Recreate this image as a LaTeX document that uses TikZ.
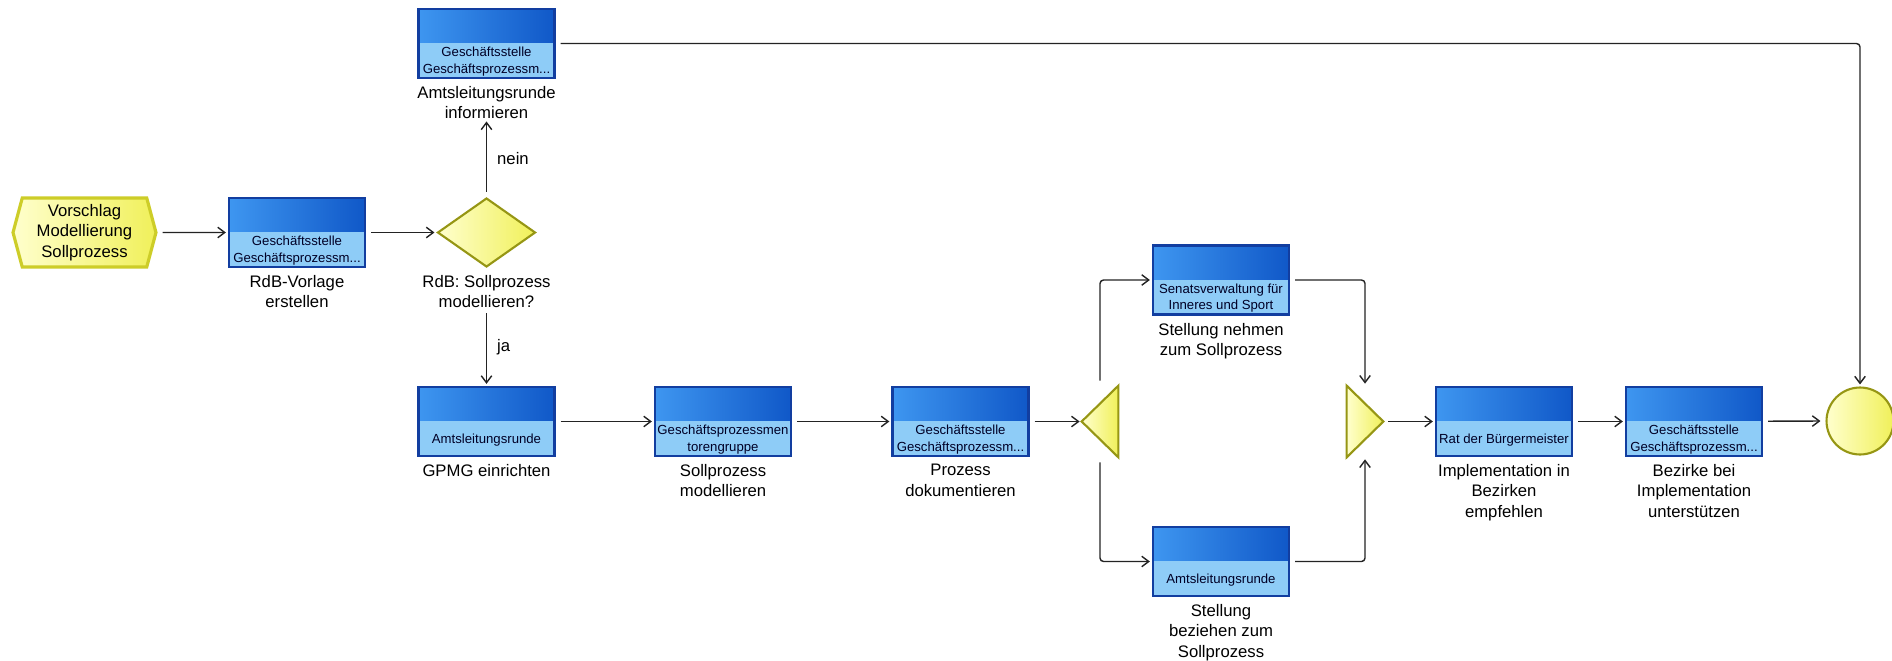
\documentclass[tikz,border=0pt]{standalone}
\usepackage{fontspec}
\setmainfont{Liberation Sans}
\usetikzlibrary{shapes.geometric,shapes.symbols,positioning,arrows.meta}
\definecolor{boxborder}{RGB}{18,62,160}
\definecolor{boxtopA}{RGB}{62,150,240}
\definecolor{boxtopB}{RGB}{16,88,200}
\definecolor{boxlight}{RGB}{142,204,247}
\definecolor{evfillA}{RGB}{255,255,205}
\definecolor{evfillB}{RGB}{240,240,90}
\definecolor{evborder}{RGB}{150,150,20}
\definecolor{hexborder}{RGB}{205,205,40}
\definecolor{linegray}{RGB}{35,35,35}

\begin{document}
\begin{tikzpicture}[x=0.02cm, y=-0.02cm,
    fnbox/.style={draw=boxborder, line width=1.3pt, minimum width=2.72cm,
      minimum height=1.38cm, inner sep=0pt,
      path picture={
        \shade[left color=boxtopA, right color=boxtopB]
          (path picture bounding box.north west) rectangle
          ([yshift=-0.68cm]path picture bounding box.north east);
        \fill[boxlight] ([yshift=-0.68cm]path picture bounding box.north west)
          rectangle (path picture bounding box.south east);
      }},
    orgtext/.style={font=\fontsize{7.5}{9.5}\selectfont, align=center,
      inner sep=0pt, text=black!85!blue},
    lbl/.style={font=\fontsize{9.5}{11.6}\selectfont, align=center, inner sep=0pt},
    yellowev/.style={draw=evborder, line width=1.2pt, left color=evfillA,
      right color=evfillB},
    flow/.style={draw=linegray, line width=0.8pt,
      -{Straight Barb[length=1.4mm, width=2.1mm]},
      shorten <=0.1cm, shorten >=0.04cm, rounded corners=2pt}]
        \useasboundingbox (0,0) rectangle (1892,660);

        % Start event and decision
        \node[yellowev, lbl, draw=hexborder, line width=1.8pt, shape=signal,
          signal to=west and east, signal pointer angle=150,
          minimum width=2.86cm, minimum height=1.38cm] (start) at (84.5,232.5)
          {Vorschlag\\Modellierung\\Sollprozess};
        \node[yellowev, diamond, minimum width=1.96cm, minimum height=1.38cm,
          inner sep=0pt] (dec) at (486.5,232.5) {};
        \node[lbl, below=0.14cm of dec] (dec-lbl) {RdB: Sollprozess\\modellieren?};

        % Functions
        \foreach \n/\x/\y/\org/\txt in {
            b1/297/232.5/{Geschäftsstelle\\Geschäftsprozessm...}/{RdB-Vorlage\\erstellen},
            b2/486.5/43.5/{Geschäftsstelle\\Geschäftsprozessm...}/{Amtsleitungsrunde\\informieren},
            b3/486.5/421.5/{Amtsleitungsrunde}/{GPMG einrichten},
            b4/723/421.5/{Geschäftsprozessmen\\torengruppe}/{Sollprozess\\modellieren},
            b5/960.5/421.5/{Geschäftsstelle\\Geschäftsprozessm...}/{Prozess\\dokumentieren},
            b6/1221/280/{Senatsverwaltung für\\Inneres und Sport}/{Stellung nehmen\\zum Sollprozess},
            b7/1221/561.5/{Amtsleitungsrunde}/{Stellung\\beziehen zum\\Sollprozess},
            b8/1504/421.5/{Rat der Bürgermeister}/{Implementation in\\Bezirken\\empfehlen},
            b9/1694/421.5/{Geschäftsstelle\\Geschäftsprozessm...}/{Bezirke bei\\Implementation\\unterstützen}}{
            \node[fnbox] (\n) at (\x,\y) {};
            \node[orgtext] (\n-org) at ([yshift=0.35cm]\n.south) {\org};
            \node[lbl, below=0.14cm of \n] (\n-lbl) {\txt};
        }

        % Split, join and end event
        \node[minimum width=0.72cm, minimum height=1.42cm, inner sep=0pt] (split) at (1100,421.5) {};
        \draw[yellowev] (split.north east) -- (split.south east) -- (split.west) -- cycle;
        \node[minimum width=0.72cm, minimum height=1.42cm, inner sep=0pt] (join) at (1365,421.5) {};
        \draw[yellowev] (join.north west) -- (join.south west) -- (join.east) -- cycle;
        \node[yellowev, circle, minimum size=1.34cm, inner sep=0pt] (end) at (1860,421) {};

        % Connectors
        \draw[flow] (start) -- (b1);
        \draw[flow] (b1) -- (dec);
        \draw[flow] (dec) -- node[lbl, right=0.2cm] (no) {nein} (b2-lbl);
        \draw[flow] (dec-lbl) -- node[lbl, right=0.2cm] (yes) {ja} (b3);
        \draw[flow] (b2) -| (end);
        \draw[flow] (b3) -- (b4);
        \draw[flow] (b4) -- (b5);
        \draw[flow] (b5) -- (split.west);
        \draw[flow] (split.north) |- (b6);
        \draw[flow] (split.south) |- (b7);
        \draw[flow] (b6) -| (join.north);
        \draw[flow] (b7) -| (join.south);
        \draw[flow] (join.east) -- (b8);
        \draw[flow] (b8) -- (b9);
        \draw[flow] (b9) -- ([xshift=-0.06cm]end.west);
    \end{tikzpicture}
\end{document}
